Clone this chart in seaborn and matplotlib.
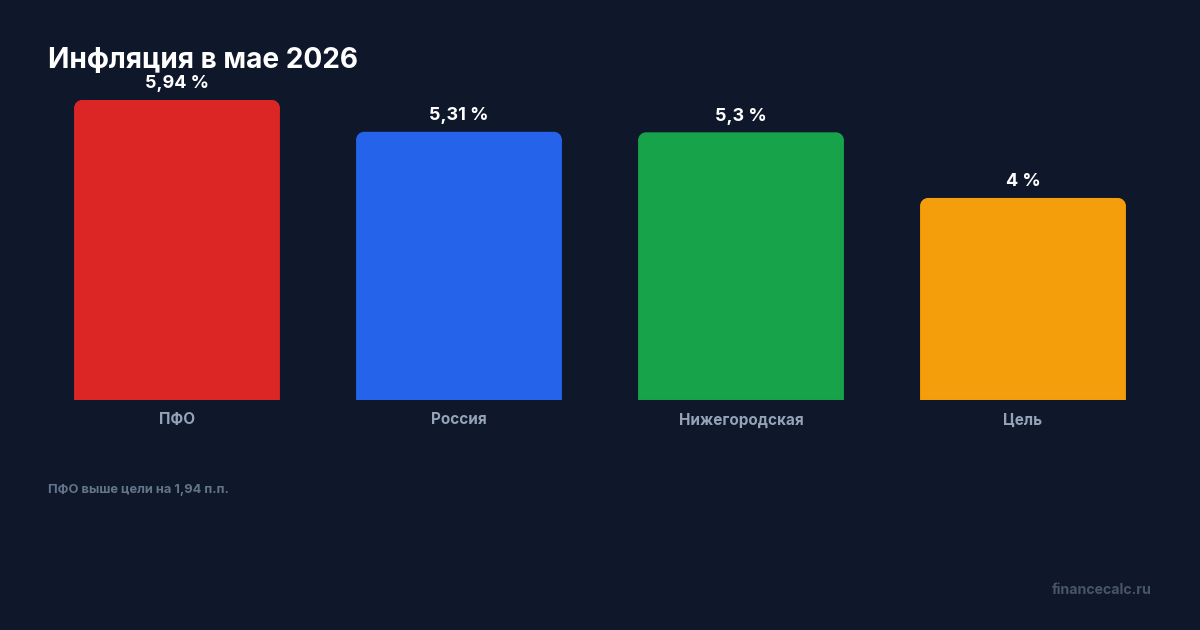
import matplotlib
matplotlib.use('Agg')
import matplotlib.pyplot as plt
import pandas as pd
import seaborn as sns
from matplotlib.path import Path
from matplotlib.patches import PathPatch

regions = ['ПФО', 'Россия', 'Нижегородская', 'Цель']
inflation = [5.94, 5.31, 5.3, 4.0]
value_labels = ['5,94 %', '5,31 %', '5,3 %', '4 %']
colors = ['#dc2626', '#2563eb', '#16a34a', '#f59e0b']
title = 'Инфляция в мае 2026'
note = 'ПФО выше цели на 1,94 п.п.'
watermark = 'financecalc.ru'

BG = '#0f172a'

df = pd.DataFrame({'region': regions, 'value': inflation})

sns.set_theme(style='white')
plt.rcParams['font.family'] = ['Inter', 'DejaVu Sans']

fig = plt.figure(figsize=(12, 6.3), dpi=100, facecolor=BG)
ax = fig.add_axes([0.03, 0.3651, 0.94, 0.4762])
ax.set_facecolor(BG)

sns.barplot(data=df, x='region', y='value', hue='region', palette=colors,
            width=0.73, legend=False, ax=ax, saturation=1)

ax.set_xlim(-0.5, 3.5)
ax.set_ylim(0, max(inflation))

# swap the square bars for ones with rounded top corners
fig.canvas.draw()
bbox = ax.get_window_extent()
px_x = bbox.width / 4.0
px_y = bbox.height / max(inflation)
r_px = 8
k = 0.5523
for bar in list(ax.patches):
    x0, y0 = bar.get_x(), bar.get_y()
    w, h = bar.get_width(), bar.get_height()
    rx, ry = r_px / px_x, r_px / px_y
    x1, y1 = x0 + w, y0 + h
    verts = [
        (x0, y0), (x0, y1 - ry),
        (x0, y1 - ry + k * ry), (x0 + rx - k * rx, y1), (x0 + rx, y1),
        (x1 - rx, y1),
        (x1 - rx + k * rx, y1), (x1, y1 - ry + k * ry), (x1, y1 - ry),
        (x1, y0), (x0, y0),
    ]
    codes = [Path.MOVETO, Path.LINETO,
             Path.CURVE4, Path.CURVE4, Path.CURVE4,
             Path.LINETO,
             Path.CURVE4, Path.CURVE4, Path.CURVE4,
             Path.LINETO, Path.CLOSEPOLY]
    ax.add_patch(PathPatch(Path(verts, codes), facecolor=bar.get_facecolor(),
                           edgecolor='none', clip_on=False))
    bar.remove()

for i, (v, lab) in enumerate(zip(inflation, value_labels)):
    ax.annotate(lab, (i, v), xytext=(0, 5.5), textcoords='offset points',
                ha='center', va='bottom', color='white', fontsize=13,
                fontweight='bold', annotation_clip=False)

ax.set_xlabel('')
ax.set_ylabel('')
ax.set_yticks([])
ax.tick_params(axis='x', length=0, pad=9, labelsize=11, labelcolor='#94a3b8')
for t in ax.get_xticklabels():
    t.set_fontweight('bold')
sns.despine(ax=ax, left=True, bottom=True)

fig.text(48 / 1200, 1 - 68 / 630, title, color='white', fontsize=20.2,
         fontweight='bold', ha='left', va='baseline')
fig.text(48 / 1200, 1 - 490 / 630, note, color='#64748b', fontsize=9.3,
         fontweight='bold', ha='left', va='center')
fig.text(1152 / 1200, 1 - 590 / 630, watermark, color='#475569', fontsize=10.2,
         fontweight='bold', ha='right', va='center')

fig.savefig('out.png', dpi=100, facecolor=BG)
